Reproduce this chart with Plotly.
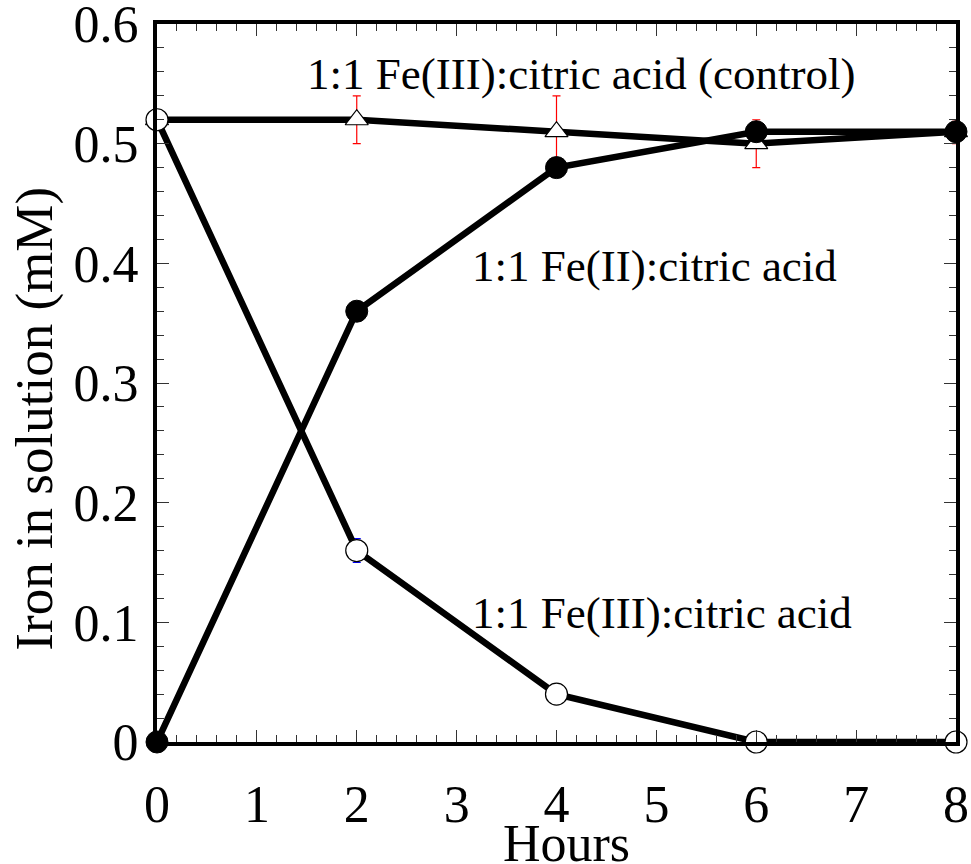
import plotly.graph_objects as go

# Sampling times (hours)
hours = [0, 2, 4, 6, 8]

# Iron remaining in solution (mM)
fe3_control = [0.52, 0.52, 0.51, 0.50, 0.51]
fe3_control_err = [0.0, 0.02, 0.03, 0.02, 0.01]
fe2_citrate = [0.0, 0.36, 0.48, 0.51, 0.51]
fe3_citrate = [0.52, 0.16, 0.04, 0.0, 0.0]
fe3_citrate_err = [0.0, 0.01, 0.0, 0.0, 0.0]

x_ticks = [0, 1, 2, 3, 4, 5, 6, 7, 8]
y_ticks = [0, 0.1, 0.2, 0.3, 0.4, 0.5, 0.6]
y_tick_text = ["0", "0.1", "0.2", "0.3", "0.4", "0.5", "0.6"]

FONT = "Liberation Serif, Times New Roman, serif"

fig = go.Figure()

fig.add_trace(go.Scatter(
    x=hours, y=fe3_control, mode="lines+markers",
    line=dict(color="black", width=6.5),
    marker=dict(symbol="triangle-up", size=20, color="white",
                line=dict(color="black", width=1.2)),
    error_y=dict(type="data", array=fe3_control_err, color="red",
                 thickness=1.2, width=4),
    cliponaxis=False, showlegend=False,
))

fig.add_trace(go.Scatter(
    x=hours, y=fe2_citrate, mode="lines+markers",
    line=dict(color="black", width=6.5),
    marker=dict(symbol="circle", size=22, color="black",
                line=dict(color="black", width=1)),
    cliponaxis=False, showlegend=False,
))

fig.add_trace(go.Scatter(
    x=hours, y=fe3_citrate, mode="lines+markers",
    line=dict(color="black", width=6.5),
    marker=dict(symbol="circle", size=22, color="white",
                line=dict(color="black", width=1.2)),
    error_y=dict(type="data", array=fe3_citrate_err, color="blue",
                 thickness=1.2, width=4),
    cliponaxis=False, showlegend=False,
))

labels = [
    ("1:1 Fe(III):citric acid (control)", 4.25, 0.558),
    ("1:1 Fe(II):citric acid", 4.98, 0.398),
    ("1:1 Fe(III):citric acid", 5.06, 0.108),
]
for text, lx, ly in labels:
    fig.add_annotation(x=lx, y=ly, text=text, showarrow=False,
                       xanchor="center", yanchor="middle",
                       font=dict(family=FONT, size=45, color="black"))

# Axis titles as paper-positioned text
fig.add_annotation(xref="paper", yref="paper", x=-0.153, y=0.45,
                   text="Iron in solution (mM)", textangle=-90,
                   showarrow=False, xanchor="center", yanchor="middle",
                   font=dict(family=FONT, size=53, color="black"))
fig.add_annotation(xref="paper", yref="paper", x=0.513, y=-0.141,
                   text="Hours", showarrow=False,
                   xanchor="center", yanchor="middle",
                   font=dict(family=FONT, size=52, color="black"))

axis_common = dict(
    showline=True, linecolor="black", linewidth=4, mirror="allticks",
    ticks="inside", ticklen=12, tickwidth=1, tickcolor="#333",
    showgrid=False, zeroline=False, automargin=False,
    ticklabeloverflow="allow",
    tickfont=dict(family=FONT, size=52, color="black"),
)

fig.update_xaxes(
    range=[0, 8], tickvals=x_ticks,
    minor=dict(ticks="inside", ticklen=7, tickwidth=1, tickcolor="#333",
               dtick=0.2, showgrid=False),
    ticklabelstandoff=14,
    **axis_common,
)
fig.update_yaxes(
    range=[0, 0.6000001], tickvals=y_ticks, ticktext=y_tick_text,
    minor=dict(ticks="inside", ticklen=7, tickwidth=1, tickcolor="#333",
               dtick=0.02, showgrid=False),
    ticklabelstandoff=4,
    **axis_common,
)

fig.update_layout(
    width=971, height=864,
    margin=dict(l=157, r=15, t=24, b=122),
    paper_bgcolor="white", plot_bgcolor="white",
    font=dict(family=FONT, color="black"),
)

fig.write_html("out.html")
